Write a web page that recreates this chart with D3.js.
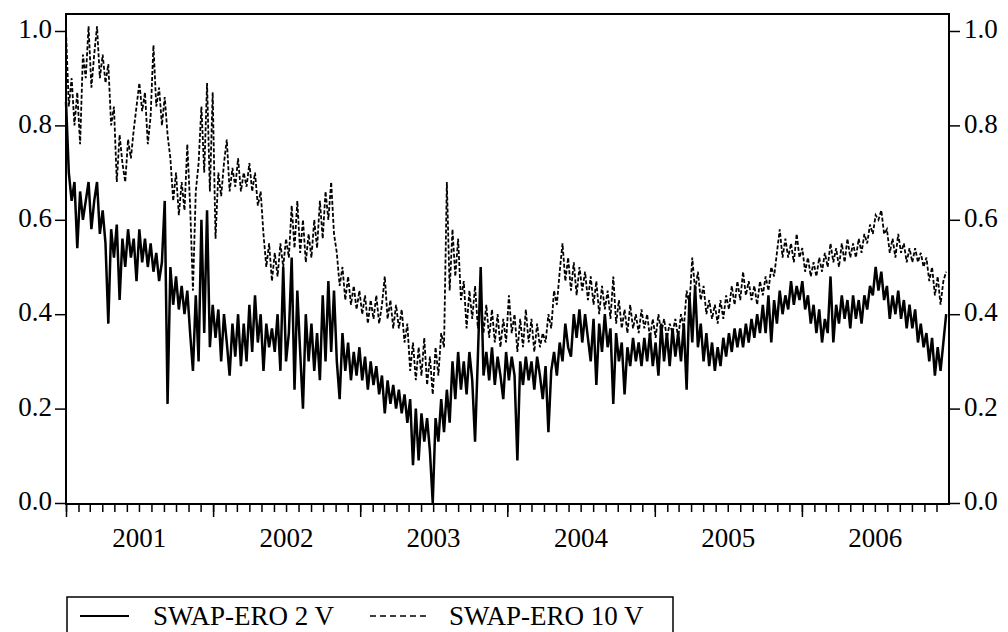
<!DOCTYPE html>
<html>
<head>
<meta charset="utf-8">
<script src="https://cdn.jsdelivr.net/npm/d3@7.9.0/dist/d3.min.js"></script>
<style>
  body { margin: 0; background: #fff; }
</style>
</head>
<body>
<svg id="chart" width="1008" height="632"></svg>
<script>
// weekly observations starting at the first week of 2001
const startDate = new Date(2001, 0, 1);
const endDate = new Date(2007, 0, 1);

const years = ['2001', '2002', '2003', '2004', '2005', '2006'];
const yTicks = [0.0, 0.2, 0.4, 0.6, 0.8, 1.0];

const seriesNames = ['SWAP-ERO 2 V', 'SWAP-ERO 10 V'];

const swap2 = [
  0.85, 0.70, 0.64, 0.68, 0.54, 0.66, 0.60, 0.64, 0.68, 0.58,
  0.64, 0.68, 0.57, 0.62, 0.55, 0.38, 0.58, 0.52, 0.59, 0.43,
  0.56, 0.50, 0.58, 0.52, 0.56, 0.47, 0.58, 0.51, 0.56, 0.50,
  0.55, 0.49, 0.53, 0.47, 0.51, 0.64, 0.21, 0.50, 0.42, 0.48,
  0.41, 0.46, 0.40, 0.45, 0.36, 0.28, 0.44, 0.30, 0.60, 0.36,
  0.62, 0.33, 0.42, 0.35, 0.41, 0.30, 0.40, 0.34, 0.27, 0.38,
  0.31, 0.40, 0.29, 0.38, 0.30, 0.42, 0.32, 0.44, 0.34, 0.40,
  0.28, 0.38, 0.33, 0.37, 0.32, 0.40, 0.28, 0.50, 0.30, 0.36,
  0.52, 0.24, 0.45, 0.32, 0.20, 0.40, 0.30, 0.38, 0.28, 0.36,
  0.26, 0.44, 0.30, 0.47, 0.32, 0.45, 0.30, 0.22, 0.36, 0.28,
  0.34, 0.26, 0.32, 0.27, 0.33, 0.26, 0.31, 0.24, 0.30, 0.25,
  0.29, 0.23, 0.27, 0.19, 0.26, 0.21, 0.25, 0.20, 0.24, 0.19,
  0.23, 0.17, 0.22, 0.08, 0.20, 0.09, 0.19, 0.13, 0.18, 0.11,
  0.00, 0.18, 0.13, 0.22, 0.15, 0.24, 0.17, 0.30, 0.22, 0.32,
  0.24, 0.30, 0.23, 0.32, 0.26, 0.13, 0.31, 0.50, 0.27, 0.32,
  0.26, 0.33, 0.25, 0.31, 0.27, 0.22, 0.32, 0.26, 0.31, 0.27,
  0.09, 0.30, 0.25, 0.31, 0.26, 0.30, 0.24, 0.31, 0.27, 0.22,
  0.29, 0.15, 0.28, 0.32, 0.27, 0.34, 0.30, 0.38, 0.33, 0.31,
  0.40, 0.35, 0.41, 0.34, 0.40, 0.35, 0.30, 0.39, 0.25, 0.38,
  0.32, 0.40, 0.33, 0.37, 0.21, 0.36, 0.30, 0.34, 0.23, 0.33,
  0.29, 0.35, 0.30, 0.34, 0.29, 0.35, 0.30, 0.36, 0.29, 0.34,
  0.27, 0.38, 0.30, 0.36, 0.29, 0.37, 0.31, 0.36, 0.30, 0.38,
  0.24, 0.44, 0.34, 0.46, 0.33, 0.38, 0.30, 0.36, 0.29, 0.34,
  0.28, 0.33, 0.29, 0.35, 0.31, 0.36, 0.32, 0.37, 0.33, 0.37,
  0.33, 0.38, 0.34, 0.39, 0.35, 0.40, 0.36, 0.42, 0.36, 0.44,
  0.34, 0.43, 0.38, 0.45, 0.40, 0.44, 0.41, 0.47, 0.42, 0.46,
  0.43, 0.47, 0.41, 0.44, 0.38, 0.42, 0.36, 0.41, 0.34, 0.39,
  0.36, 0.48, 0.34, 0.42, 0.38, 0.44, 0.39, 0.43, 0.37, 0.44,
  0.39, 0.43, 0.38, 0.44, 0.41, 0.46, 0.44, 0.50, 0.45, 0.49,
  0.43, 0.46, 0.39, 0.44, 0.40, 0.45, 0.39, 0.43, 0.37, 0.42,
  0.37, 0.41, 0.34, 0.38, 0.33, 0.36, 0.30, 0.35, 0.27, 0.33,
  0.28, 0.34, 0.40
];

const swap10 = [
  1.00, 0.84, 0.90, 0.80, 0.87, 0.76, 0.95, 0.90, 1.01, 0.88,
  0.95, 1.01, 0.90, 0.95, 0.89, 0.93, 0.80, 0.84, 0.68, 0.78,
  0.72, 0.68, 0.77, 0.73, 0.79, 0.84, 0.89, 0.83, 0.87, 0.76,
  0.82, 0.97, 0.84, 0.88, 0.80, 0.86, 0.78, 0.73, 0.64, 0.70,
  0.61, 0.68, 0.62, 0.76, 0.63, 0.45, 0.66, 0.72, 0.84, 0.70,
  0.89, 0.66, 0.87, 0.56, 0.70, 0.65, 0.72, 0.77, 0.66, 0.71,
  0.67, 0.73, 0.66, 0.70, 0.67, 0.72, 0.66, 0.70, 0.63, 0.66,
  0.57, 0.50, 0.55, 0.47, 0.53, 0.48, 0.55, 0.50, 0.56, 0.52,
  0.63, 0.54, 0.64, 0.53, 0.60, 0.51, 0.57, 0.52, 0.60, 0.54,
  0.64, 0.56, 0.66, 0.60, 0.68, 0.57, 0.53, 0.46, 0.50, 0.43,
  0.48, 0.42, 0.46, 0.41, 0.45, 0.40, 0.44, 0.38, 0.43, 0.39,
  0.44, 0.38, 0.42, 0.48, 0.39, 0.43, 0.37, 0.42, 0.37, 0.41,
  0.34, 0.38, 0.28, 0.34, 0.26, 0.33, 0.27, 0.35, 0.25, 0.31,
  0.23, 0.33, 0.27, 0.36, 0.33, 0.68, 0.45, 0.58, 0.48, 0.56,
  0.43, 0.47, 0.37, 0.45, 0.39, 0.46, 0.37, 0.44, 0.36, 0.42,
  0.35, 0.41, 0.34, 0.40, 0.33, 0.39, 0.34, 0.44, 0.36, 0.40,
  0.32, 0.39, 0.33, 0.41, 0.34, 0.39, 0.32, 0.38, 0.33, 0.36,
  0.34, 0.40, 0.37, 0.45, 0.42, 0.49, 0.55, 0.47, 0.52, 0.45,
  0.51, 0.44, 0.50, 0.45, 0.49, 0.43, 0.48, 0.42, 0.47, 0.40,
  0.46, 0.41, 0.45, 0.39, 0.48, 0.38, 0.43, 0.37, 0.41, 0.36,
  0.42, 0.37, 0.40, 0.36, 0.41, 0.37, 0.40, 0.35, 0.39, 0.35,
  0.40, 0.36, 0.39, 0.35, 0.38, 0.36, 0.39, 0.35, 0.40, 0.37,
  0.45, 0.42, 0.52, 0.45, 0.49, 0.43, 0.46, 0.40, 0.43, 0.39,
  0.42, 0.38, 0.43, 0.39, 0.44, 0.41, 0.46, 0.42, 0.47, 0.43,
  0.49, 0.44, 0.47, 0.43, 0.46, 0.42, 0.47, 0.44, 0.48, 0.45,
  0.50, 0.48, 0.53, 0.58, 0.52, 0.56, 0.52, 0.55, 0.51, 0.57,
  0.52, 0.54, 0.49, 0.52, 0.48, 0.51, 0.48, 0.52, 0.49, 0.53,
  0.50, 0.55, 0.51, 0.54, 0.50, 0.55, 0.51, 0.56, 0.52, 0.55,
  0.52, 0.56, 0.53, 0.57, 0.55, 0.59, 0.57, 0.61, 0.60, 0.62,
  0.57, 0.58, 0.53, 0.56, 0.52, 0.57, 0.53, 0.55, 0.51, 0.54,
  0.51, 0.54, 0.51, 0.53, 0.50, 0.52, 0.47, 0.50, 0.44, 0.48,
  0.42, 0.47, 0.49
];

const fontFamily = '"Liberation Serif", "Times New Roman", Times, serif';
const fontSize = 27;

const svg = d3.select('#chart')
    .attr('font-family', fontFamily);

const margin = { left: 66, right: 949, top: 14, bottom: 504 };

const x = d3.scaleTime()
    .domain([startDate, endDate])
    .range([margin.left, margin.right]);

const y = d3.scaleLinear()
    .domain([0, 1.036])
    .range([503, margin.top]);

const dateAt = (i) => d3.timeDay.offset(startDate, 7 * i);

const line = d3.line()
    .x((d, i) => x(dateAt(i)))
    .y((d) => y(d));

svg.append('path')
    .datum(swap10)
    .attr('d', line)
    .attr('fill', 'none')
    .attr('stroke', '#000')
    .attr('stroke-width', 1.8)
    .attr('stroke-dasharray', '4,2');

svg.append('path')
    .datum(swap2)
    .attr('d', line)
    .attr('fill', 'none')
    .attr('stroke', '#000')
    .attr('stroke-width', 2.5);

// frame
svg.append('rect')
    .attr('x', margin.left)
    .attr('y', margin.top)
    .attr('width', margin.right - margin.left)
    .attr('height', margin.bottom - margin.top)
    .attr('fill', 'none')
    .attr('stroke', '#000')
    .attr('stroke-width', 2);

// month ticks
const months = d3.timeMonth.range(startDate, endDate);
const bottomMinor = svg.append('g')
    .attr('transform', `translate(0,${margin.bottom})`)
    .call(d3.axisBottom(x).tickValues(months).tickSize(8).tickFormat(''));
bottomMinor.select('.domain').remove();
bottomMinor.selectAll('line').attr('stroke-width', 1.5);

// year ticks
const yearStarts = years.map((yr) => new Date(+yr, 0, 1));
const bottomMajor = svg.append('g')
    .attr('transform', `translate(0,${margin.bottom})`)
    .call(d3.axisBottom(x).tickValues(yearStarts).tickSize(13).tickFormat(''));
bottomMajor.select('.domain').remove();
bottomMajor.selectAll('line').attr('stroke-width', 1.5);

svg.append('g')
    .selectAll('text')
    .data(years)
    .join('text')
    .attr('x', (d) => x(new Date(+d, 6, 2)))
    .attr('y', 547)
    .attr('text-anchor', 'middle')
    .attr('font-family', fontFamily)
    .attr('font-size', fontSize)
    .text((d) => d);

const fmt = d3.format('.1f');

const leftAxis = svg.append('g')
    .attr('transform', `translate(${margin.left},0)`)
    .call(d3.axisLeft(y).tickValues(yTicks).tickSize(11).tickPadding(3).tickFormat(fmt));

const rightAxis = svg.append('g')
    .attr('transform', `translate(${margin.right},0)`)
    .call(d3.axisRight(y).tickValues(yTicks).tickSize(11).tickPadding(4).tickFormat(fmt));

[leftAxis, rightAxis].forEach((g) => {
    g.attr('font-family', fontFamily).attr('font-size', fontSize);
    g.select('.domain').remove();
    g.selectAll('line').attr('stroke-width', 1.5);
    g.selectAll('text')
        .attr('font-family', fontFamily)
        .attr('font-size', fontSize)
        .attr('dy', '0.25em');
});

// legend
const legend = svg.append('g');

legend.append('rect')
    .attr('x', 67)
    .attr('y', 597)
    .attr('width', 606)
    .attr('height', 60)
    .attr('fill', '#fff')
    .attr('stroke', '#000')
    .attr('stroke-width', 1.5);

const legendItems = [
    { name: seriesNames[0], x0: 80, x1: 129, tx: 153, dash: null, w: 2.2 },
    { name: seriesNames[1], x0: 370, x1: 426, tx: 449, dash: '6,4', w: 1.6 }
];

legendItems.forEach((d) => {
    legend.append('line')
        .attr('x1', d.x0)
        .attr('x2', d.x1)
        .attr('y1', 616)
        .attr('y2', 616)
        .attr('stroke', '#000')
        .attr('stroke-width', d.w)
        .attr('stroke-dasharray', d.dash);
    legend.append('text')
        .attr('x', d.tx)
        .attr('y', 625)
        .attr('font-family', fontFamily)
        .attr('font-size', fontSize)
        .text(d.name);
});
</script>
</body>
</html>
